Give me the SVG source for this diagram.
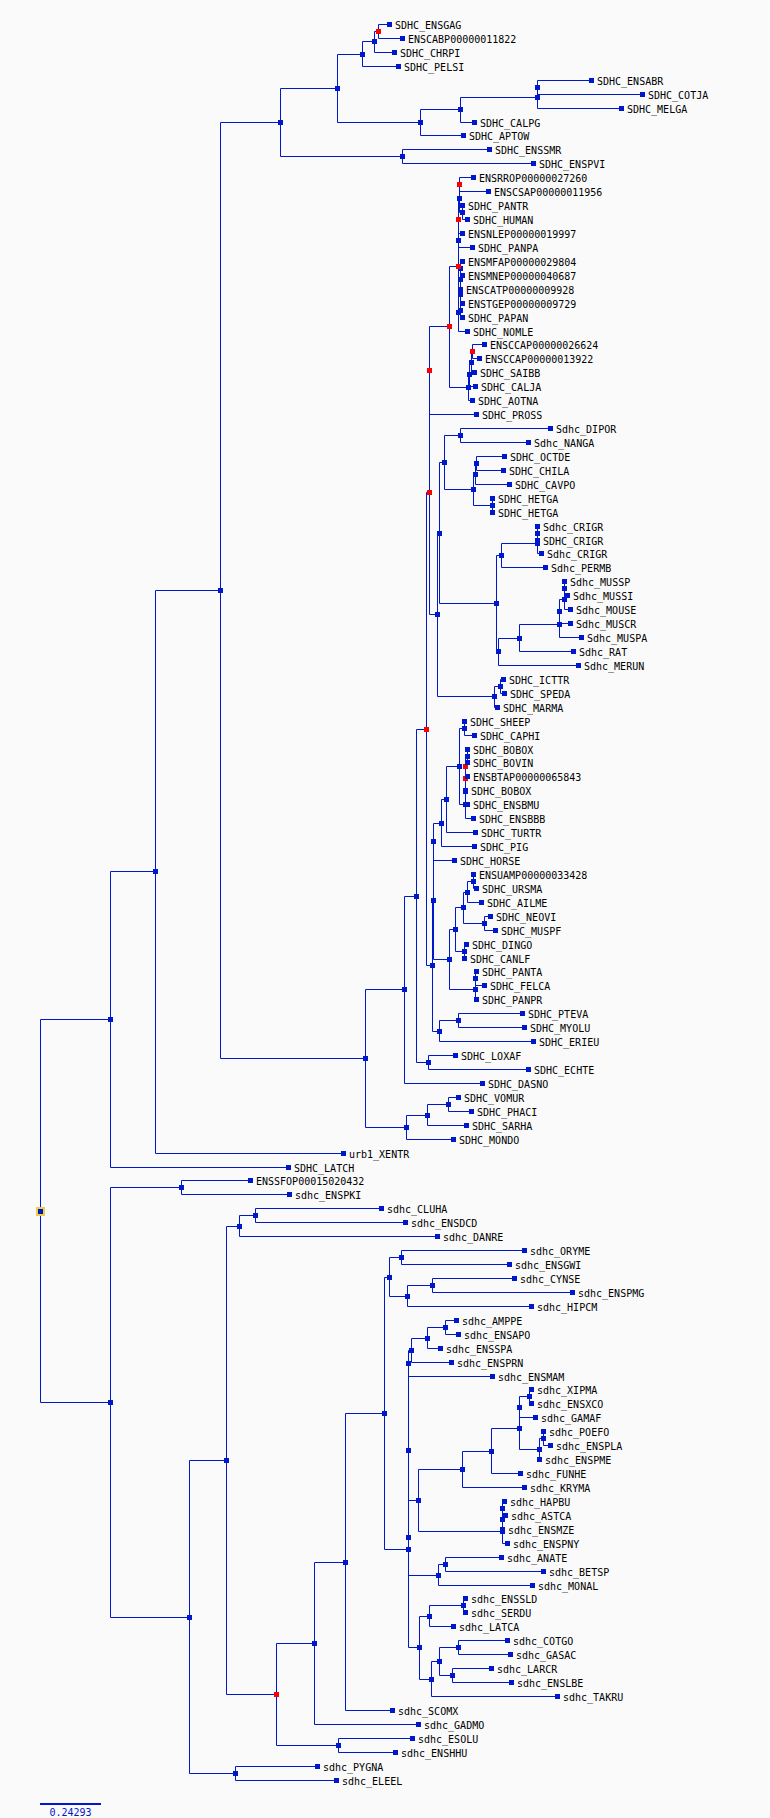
<svg xmlns="http://www.w3.org/2000/svg" xmlns:xlink="http://www.w3.org/1999/xlink" width="770" height="1818" viewBox="0 0 770 1818">
<style>
.c path{fill:none;stroke:#0018cc;stroke-width:1}
.b{fill:#0018cc}
.r{fill:#ff0000}
text{font-family:"DejaVu Sans Mono","Liberation Mono",monospace;font-size:10px;fill:#000}
.s{fill:#0018cc}
</style>
<defs><rect id="m" x="-2.5" y="-2.5" width="5" height="5"/></defs>
<rect width="770" height="1818" fill="#fafafa"/>
<g class="c" id="connectors">
<path d="M389.5 24.5H378.5V38.5H402.5"/>
<path d="M378.5 31.5H374.5V52.5H394.5"/>
<path d="M374.5 41.5H362.5V66.5H398.5"/>
<path d="M591.5 80.5H537.5V94.5H642.5"/>
<path d="M537.5 87.5V108.5H621.5"/>
<path d="M537.5 97.5H460.5V122.5H474.5"/>
<path d="M460.5 109.5H420.5V135.5H463.5"/>
<path d="M362.5 54.5H337.5V122.5H420.5"/>
<path d="M489.5 149.5H402.5V163.5H533.5"/>
<path d="M337.5 88.5H280.5V156.5H402.5"/>
<path d="M473.5 177.5H459.5V191.5H488.5"/>
<path d="M462.5 205.5V219.5H467.5"/>
<path d="M459.5 184.5V212.5H462.5"/>
<path d="M462.5 233.5H458.5V247.5H472.5"/>
<path d="M459.5 198.5H458.5V240.5"/>
<path d="M462.5 261.5H460.5V275.5H462.5"/>
<path d="M460.5 268.5V289.5"/>
<path d="M462.5 303.5H460.5V317.5H462.5"/>
<path d="M460.5 279.5V310.5"/>
<path d="M460.5 294.5H458.5V331.5H467.5"/>
<path d="M458.5 219.5V312.5"/>
<path d="M484.5 344.5H472.5V358.5H479.5"/>
<path d="M472.5 351.5H471.5V372.5H474.5"/>
<path d="M471.5 362.5H469.5V386.5H475.5"/>
<path d="M469.5 374.5H468.5V400.5H472.5"/>
<path d="M458.5 266.5H449.5V387.5H468.5"/>
<path d="M449.5 326.5H429.5V414.5H476.5"/>
<path d="M550.5 428.5H460.5V442.5H528.5"/>
<path d="M504.5 456.5H476.5V470.5H503.5"/>
<path d="M476.5 463.5H475.5V484.5H509.5"/>
<path d="M492.5 498.5V512.5"/>
<path d="M475.5 474.5H473.5V505.5H492.5"/>
<path d="M460.5 435.5H444.5V489.5H473.5"/>
<path d="M537.5 526.5V540.5"/>
<path d="M537.5 533.5V553.5H541.5"/>
<path d="M537.5 543.5H501.5V567.5H545.5"/>
<path d="M564.5 581.5V595.5H567.5"/>
<path d="M564.5 588.5V609.5H570.5"/>
<path d="M564.5 599.5H559.5V623.5H570.5"/>
<path d="M559.5 611.5V637.5H581.5"/>
<path d="M559.5 624.5H519.5V651.5H573.5"/>
<path d="M519.5 638.5H498.5V665.5H578.5"/>
<path d="M501.5 555.5H496.5V651.5H498.5"/>
<path d="M444.5 462.5H439.5V603.5H496.5"/>
<path d="M503.5 679.5H500.5V693.5H504.5"/>
<path d="M500.5 686.5H494.5V707.5H497.5"/>
<path d="M439.5 533.5H437.5V696.5H494.5"/>
<path d="M429.5 370.5V614.5H437.5"/>
<path d="M464.5 721.5V735.5H474.5"/>
<path d="M467.5 749.5V762.5"/>
<path d="M467.5 756.5H465.5V776.5H467.5"/>
<path d="M465.5 766.5V790.5"/>
<path d="M465.5 778.5V804.5H467.5"/>
<path d="M465.5 791.5V818.5H473.5"/>
<path d="M464.5 728.5H459.5V804.5H465.5"/>
<path d="M459.5 766.5H446.5V832.5H475.5"/>
<path d="M446.5 799.5H441.5V846.5H474.5"/>
<path d="M441.5 823.5H433.5V860.5H454.5"/>
<path d="M473.5 874.5V888.5H476.5"/>
<path d="M473.5 881.5H467.5V902.5H481.5"/>
<path d="M490.5 916.5H484.5V930.5H495.5"/>
<path d="M467.5 892.5H463.5V923.5H484.5"/>
<path d="M466.5 944.5H464.5V958.5"/>
<path d="M463.5 907.5H455.5V951.5H464.5"/>
<path d="M476.5 971.5H475.5V985.5H484.5"/>
<path d="M475.5 978.5V999.5H476.5"/>
<path d="M455.5 929.5H449.5V989.5H475.5"/>
<path d="M433.5 841.5V959.5H449.5"/>
<path d="M522.5 1013.5H458.5V1027.5H524.5"/>
<path d="M458.5 1020.5H439.5V1041.5H533.5"/>
<path d="M433.5 900.5H432.5V1031.5H439.5"/>
<path d="M429.5 492.5H426.5V965.5H432.5"/>
<path d="M455.5 1055.5H428.5V1069.5H528.5"/>
<path d="M426.5 729.5H416.5V1062.5H428.5"/>
<path d="M416.5 896.5H404.5V1083.5H482.5"/>
<path d="M458.5 1097.5H448.5V1111.5H471.5"/>
<path d="M448.5 1104.5H427.5V1125.5H466.5"/>
<path d="M427.5 1115.5H406.5V1139.5H453.5"/>
<path d="M404.5 989.5H365.5V1127.5H406.5"/>
<path d="M280.5 122.5H220.5V1058.5H365.5"/>
<path d="M220.5 590.5H155.5V1153.5H343.5"/>
<path d="M155.5 871.5H110.5V1167.5H288.5"/>
<path d="M250.5 1180.5H181.5V1194.5H289.5"/>
<path d="M381.5 1208.5H255.5V1222.5H405.5"/>
<path d="M255.5 1215.5H239.5V1236.5H437.5"/>
<path d="M524.5 1250.5H401.5V1264.5H509.5"/>
<path d="M514.5 1278.5H432.5V1292.5H572.5"/>
<path d="M432.5 1285.5H407.5V1306.5H531.5"/>
<path d="M401.5 1257.5H389.5V1296.5H407.5"/>
<path d="M456.5 1320.5H445.5V1334.5H458.5"/>
<path d="M445.5 1327.5H427.5V1348.5H440.5"/>
<path d="M427.5 1338.5H411.5V1362.5H451.5"/>
<path d="M411.5 1350.5H408.5V1376.5H492.5"/>
<path d="M531.5 1389.5H529.5V1403.5H531.5"/>
<path d="M529.5 1396.5H519.5V1417.5H535.5"/>
<path d="M543.5 1431.5V1445.5H550.5"/>
<path d="M543.5 1438.5H539.5V1459.5"/>
<path d="M519.5 1407.5V1449.5H539.5"/>
<path d="M519.5 1428.5H491.5V1473.5H520.5"/>
<path d="M491.5 1451.5H462.5V1487.5H524.5"/>
<path d="M504.5 1501.5H502.5V1515.5H505.5"/>
<path d="M502.5 1508.5V1529.5"/>
<path d="M502.5 1519.5V1543.5H507.5"/>
<path d="M462.5 1469.5H418.5V1531.5H502.5"/>
<path d="M501.5 1557.5H445.5V1571.5H543.5"/>
<path d="M445.5 1564.5H438.5V1585.5H532.5"/>
<path d="M418.5 1500.5H408.5V1575.5H438.5"/>
<path d="M408.5 1363.5V1537.5"/>
<path d="M465.5 1598.5H463.5V1612.5H465.5"/>
<path d="M463.5 1605.5H429.5V1626.5H453.5"/>
<path d="M507.5 1640.5H458.5V1654.5H510.5"/>
<path d="M491.5 1668.5H452.5V1682.5H511.5"/>
<path d="M458.5 1647.5H439.5V1675.5H452.5"/>
<path d="M439.5 1661.5H431.5V1696.5H557.5"/>
<path d="M429.5 1616.5H419.5V1679.5H431.5"/>
<path d="M408.5 1450.5V1647.5H419.5"/>
<path d="M389.5 1277.5H384.5V1549.5H408.5"/>
<path d="M384.5 1413.5H345.5V1710.5H392.5"/>
<path d="M345.5 1562.5H314.5V1724.5H418.5"/>
<path d="M412.5 1738.5H338.5V1752.5H395.5"/>
<path d="M314.5 1643.5H276.5V1745.5H338.5"/>
<path d="M239.5 1226.5H226.5V1694.5H276.5"/>
<path d="M317.5 1766.5H235.5V1780.5H336.5"/>
<path d="M226.5 1460.5H189.5V1773.5H235.5"/>
<path d="M181.5 1187.5H110.5V1617.5H189.5"/>
<path d="M110.5 1019.5H40.5V1402.5H110.5"/>
</g>
<g id="internal-nodes">
<g id="n1"><use href="#m" class="r" x="378.5" y="31.5"/></g>
<g id="n2"><use href="#m" class="b" x="374.5" y="41.5"/></g>
<g id="n3"><use href="#m" class="b" x="362.5" y="54.5"/></g>
<g id="n4"><use href="#m" class="b" x="537.5" y="87.5"/></g>
<g id="n5"><use href="#m" class="b" x="537.5" y="97.5"/></g>
<g id="n6"><use href="#m" class="b" x="460.5" y="109.5"/></g>
<g id="n7"><use href="#m" class="b" x="420.5" y="122.5"/></g>
<g id="n8"><use href="#m" class="b" x="337.5" y="88.5"/></g>
<g id="n9"><use href="#m" class="b" x="402.5" y="156.5"/></g>
<g id="n10"><use href="#m" class="b" x="280.5" y="122.5"/></g>
<g id="p1"><use href="#m" class="r" x="459.5" y="184.5"/></g>
<g id="p2"><use href="#m" class="b" x="462.5" y="212.5"/></g>
<g id="p3"><use href="#m" class="b" x="459.5" y="198.5"/></g>
<g id="p4"><use href="#m" class="b" x="458.5" y="240.5"/></g>
<g id="p5"><use href="#m" class="r" x="458.5" y="219.5"/></g>
<g id="p6"><use href="#m" class="b" x="460.5" y="268.5"/></g>
<g id="p7"><use href="#m" class="b" x="460.5" y="279.5"/></g>
<g id="p8"><use href="#m" class="b" x="460.5" y="310.5"/></g>
<g id="p9"><use href="#m" class="b" x="460.5" y="294.5"/></g>
<g id="p10"><use href="#m" class="b" x="458.5" y="312.5"/></g>
<g id="p11"><use href="#m" class="r" x="458.5" y="266.5"/></g>
<g id="q1"><use href="#m" class="r" x="472.5" y="351.5"/></g>
<g id="q2"><use href="#m" class="b" x="471.5" y="362.5"/></g>
<g id="q3"><use href="#m" class="b" x="469.5" y="374.5"/></g>
<g id="q4"><use href="#m" class="b" x="468.5" y="387.5"/></g>
<g id="a1"><use href="#m" class="r" x="449.5" y="326.5"/></g>
<g id="r1"><use href="#m" class="r" x="429.5" y="370.5"/></g>
<g id="g1"><use href="#m" class="b" x="460.5" y="435.5"/></g>
<g id="g2"><use href="#m" class="b" x="476.5" y="463.5"/></g>
<g id="g3"><use href="#m" class="b" x="475.5" y="474.5"/></g>
<g id="g4"><use href="#m" class="b" x="492.5" y="505.5"/></g>
<g id="g5"><use href="#m" class="b" x="473.5" y="489.5"/></g>
<g id="g6"><use href="#m" class="b" x="444.5" y="462.5"/></g>
<g id="g7"><use href="#m" class="b" x="537.5" y="533.5"/></g>
<g id="g8"><use href="#m" class="b" x="537.5" y="543.5"/></g>
<g id="g9"><use href="#m" class="b" x="501.5" y="555.5"/></g>
<g id="g10"><use href="#m" class="b" x="564.5" y="588.5"/></g>
<g id="g11"><use href="#m" class="b" x="564.5" y="599.5"/></g>
<g id="g12"><use href="#m" class="b" x="559.5" y="611.5"/></g>
<g id="g13"><use href="#m" class="b" x="559.5" y="624.5"/></g>
<g id="g14"><use href="#m" class="b" x="519.5" y="638.5"/></g>
<g id="g15"><use href="#m" class="b" x="498.5" y="651.5"/></g>
<g id="g16"><use href="#m" class="b" x="496.5" y="603.5"/></g>
<g id="g17"><use href="#m" class="b" x="439.5" y="533.5"/></g>
<g id="g18"><use href="#m" class="b" x="500.5" y="686.5"/></g>
<g id="g19"><use href="#m" class="b" x="494.5" y="696.5"/></g>
<g id="g20"><use href="#m" class="b" x="437.5" y="614.5"/></g>
<g id="r2"><use href="#m" class="r" x="429.5" y="492.5"/></g>
<g id="c1"><use href="#m" class="b" x="464.5" y="728.5"/></g>
<g id="c2"><use href="#m" class="b" x="467.5" y="756.5"/></g>
<g id="c3"><use href="#m" class="r" x="465.5" y="766.5"/></g>
<g id="c4"><use href="#m" class="r" x="465.5" y="778.5"/></g>
<g id="c5"><use href="#m" class="b" x="465.5" y="791.5"/></g>
<g id="c6"><use href="#m" class="b" x="465.5" y="804.5"/></g>
<g id="c7"><use href="#m" class="b" x="459.5" y="766.5"/></g>
<g id="c8"><use href="#m" class="b" x="446.5" y="799.5"/></g>
<g id="c9"><use href="#m" class="b" x="441.5" y="823.5"/></g>
<g id="c10"><use href="#m" class="b" x="433.5" y="841.5"/></g>
<g id="k1"><use href="#m" class="b" x="473.5" y="881.5"/></g>
<g id="k2"><use href="#m" class="b" x="467.5" y="892.5"/></g>
<g id="k3"><use href="#m" class="b" x="484.5" y="923.5"/></g>
<g id="k4"><use href="#m" class="b" x="463.5" y="907.5"/></g>
<g id="k5"><use href="#m" class="b" x="464.5" y="951.5"/></g>
<g id="k6"><use href="#m" class="b" x="455.5" y="929.5"/></g>
<g id="k7"><use href="#m" class="b" x="475.5" y="978.5"/></g>
<g id="k8"><use href="#m" class="b" x="475.5" y="989.5"/></g>
<g id="k9"><use href="#m" class="b" x="449.5" y="959.5"/></g>
<g id="c11"><use href="#m" class="b" x="433.5" y="900.5"/></g>
<g id="b1"><use href="#m" class="b" x="458.5" y="1020.5"/></g>
<g id="b2"><use href="#m" class="b" x="439.5" y="1031.5"/></g>
<g id="c12"><use href="#m" class="b" x="432.5" y="965.5"/></g>
<g id="r3"><use href="#m" class="r" x="426.5" y="729.5"/></g>
<g id="f1"><use href="#m" class="b" x="428.5" y="1062.5"/></g>
<g id="e1"><use href="#m" class="b" x="416.5" y="896.5"/></g>
<g id="e2"><use href="#m" class="b" x="404.5" y="989.5"/></g>
<g id="m1"><use href="#m" class="b" x="448.5" y="1104.5"/></g>
<g id="m2"><use href="#m" class="b" x="427.5" y="1115.5"/></g>
<g id="m3"><use href="#m" class="b" x="406.5" y="1127.5"/></g>
<g id="e3"><use href="#m" class="b" x="365.5" y="1058.5"/></g>
<g id="nA"><use href="#m" class="b" x="220.5" y="590.5"/></g>
<g id="nB"><use href="#m" class="b" x="155.5" y="871.5"/></g>
<g id="nC"><use href="#m" class="b" x="110.5" y="1019.5"/></g>
<g id="nE"><use href="#m" class="b" x="181.5" y="1187.5"/></g>
<g id="nJ"><use href="#m" class="b" x="255.5" y="1215.5"/></g>
<g id="nI"><use href="#m" class="b" x="239.5" y="1226.5"/></g>
<g id="nT"><use href="#m" class="b" x="401.5" y="1257.5"/></g>
<g id="nV"><use href="#m" class="b" x="432.5" y="1285.5"/></g>
<g id="nU"><use href="#m" class="b" x="407.5" y="1296.5"/></g>
<g id="nR"><use href="#m" class="b" x="389.5" y="1277.5"/></g>
<g id="fa"><use href="#m" class="b" x="445.5" y="1327.5"/></g>
<g id="fb"><use href="#m" class="b" x="427.5" y="1338.5"/></g>
<g id="fc"><use href="#m" class="b" x="411.5" y="1350.5"/></g>
<g id="nY"><use href="#m" class="b" x="408.5" y="1363.5"/></g>
<g id="x1"><use href="#m" class="b" x="529.5" y="1396.5"/></g>
<g id="x2"><use href="#m" class="b" x="519.5" y="1407.5"/></g>
<g id="x3"><use href="#m" class="b" x="543.5" y="1438.5"/></g>
<g id="x4"><use href="#m" class="b" x="539.5" y="1449.5"/></g>
<g id="x5"><use href="#m" class="b" x="519.5" y="1428.5"/></g>
<g id="x6"><use href="#m" class="b" x="491.5" y="1451.5"/></g>
<g id="nBB"><use href="#m" class="b" x="462.5" y="1469.5"/></g>
<g id="h1"><use href="#m" class="b" x="502.5" y="1508.5"/></g>
<g id="h2"><use href="#m" class="b" x="502.5" y="1519.5"/></g>
<g id="h3"><use href="#m" class="b" x="502.5" y="1531.5"/></g>
<g id="nAA"><use href="#m" class="b" x="418.5" y="1500.5"/></g>
<g id="nDD"><use href="#m" class="b" x="445.5" y="1564.5"/></g>
<g id="nCC"><use href="#m" class="b" x="438.5" y="1575.5"/></g>
<g id="nZ"><use href="#m" class="b" x="408.5" y="1537.5"/></g>
<g id="nW"><use href="#m" class="b" x="408.5" y="1450.5"/></g>
<g id="s1"><use href="#m" class="b" x="463.5" y="1605.5"/></g>
<g id="nEE"><use href="#m" class="b" x="429.5" y="1616.5"/></g>
<g id="nHH"><use href="#m" class="b" x="458.5" y="1647.5"/></g>
<g id="nII"><use href="#m" class="b" x="452.5" y="1675.5"/></g>
<g id="nGG"><use href="#m" class="b" x="439.5" y="1661.5"/></g>
<g id="nFF"><use href="#m" class="b" x="431.5" y="1679.5"/></g>
<g id="nX"><use href="#m" class="b" x="419.5" y="1647.5"/></g>
<g id="nS"><use href="#m" class="b" x="408.5" y="1549.5"/></g>
<g id="nQ"><use href="#m" class="b" x="384.5" y="1413.5"/></g>
<g id="nP"><use href="#m" class="b" x="345.5" y="1562.5"/></g>
<g id="nL"><use href="#m" class="b" x="314.5" y="1643.5"/></g>
<g id="nM"><use href="#m" class="b" x="338.5" y="1745.5"/></g>
<g id="nK"><use href="#m" class="r" x="276.5" y="1694.5"/></g>
<g id="nH"><use href="#m" class="b" x="226.5" y="1460.5"/></g>
<g id="nN"><use href="#m" class="b" x="235.5" y="1773.5"/></g>
<g id="nG"><use href="#m" class="b" x="189.5" y="1617.5"/></g>
<g id="nD"><use href="#m" class="b" x="110.5" y="1402.5"/></g>
<g id="root"><rect x="36" y="1207" width="9" height="9" fill="#f0cc48"/><use href="#m" class="b" x="40.5" y="1211.5"/></g>
</g>
<g id="leaves">
<g id="L1"><use href="#m" class="b" x="389.5" y="24.5"/><text x="395" y="28.5">SDHC_ENSGAG</text></g>
<g id="L2"><use href="#m" class="b" x="402.5" y="38.5"/><text x="408" y="42.5">ENSCABP00000011822</text></g>
<g id="L3"><use href="#m" class="b" x="394.5" y="52.5"/><text x="400" y="56.5">SDHC_CHRPI</text></g>
<g id="L4"><use href="#m" class="b" x="398.5" y="66.5"/><text x="404" y="70.5">SDHC_PELSI</text></g>
<g id="L5"><use href="#m" class="b" x="591.5" y="80.5"/><text x="597" y="84.5">SDHC_ENSABR</text></g>
<g id="L6"><use href="#m" class="b" x="642.5" y="94.5"/><text x="648" y="98.5">SDHC_COTJA</text></g>
<g id="L7"><use href="#m" class="b" x="621.5" y="108.5"/><text x="627" y="112.5">SDHC_MELGA</text></g>
<g id="L8"><use href="#m" class="b" x="474.5" y="122.5"/><text x="480" y="126.5">SDHC_CALPG</text></g>
<g id="L9"><use href="#m" class="b" x="463.5" y="135.5"/><text x="469" y="139.5">SDHC_APTOW</text></g>
<g id="L10"><use href="#m" class="b" x="489.5" y="149.5"/><text x="495" y="153.5">SDHC_ENSSMR</text></g>
<g id="L11"><use href="#m" class="b" x="533.5" y="163.5"/><text x="539" y="167.5">SDHC_ENSPVI</text></g>
<g id="L12"><use href="#m" class="b" x="473.5" y="177.5"/><text x="479" y="181.5">ENSRROP00000027260</text></g>
<g id="L13"><use href="#m" class="b" x="488.5" y="191.5"/><text x="494" y="195.5">ENSCSAP00000011956</text></g>
<g id="L14"><use href="#m" class="b" x="462.5" y="205.5"/><text x="468" y="209.5">SDHC_PANTR</text></g>
<g id="L15"><use href="#m" class="b" x="467.5" y="219.5"/><text x="473" y="223.5">SDHC_HUMAN</text></g>
<g id="L16"><use href="#m" class="b" x="462.5" y="233.5"/><text x="468" y="237.5">ENSNLEP00000019997</text></g>
<g id="L17"><use href="#m" class="b" x="472.5" y="247.5"/><text x="478" y="251.5">SDHC_PANPA</text></g>
<g id="L18"><use href="#m" class="b" x="462.5" y="261.5"/><text x="468" y="265.5">ENSMFAP00000029804</text></g>
<g id="L19"><use href="#m" class="b" x="462.5" y="275.5"/><text x="468" y="279.5">ENSMNEP00000040687</text></g>
<g id="L20"><use href="#m" class="b" x="460.5" y="289.5"/><text x="466" y="293.5">ENSCATP00000009928</text></g>
<g id="L21"><use href="#m" class="b" x="462.5" y="303.5"/><text x="468" y="307.5">ENSTGEP00000009729</text></g>
<g id="L22"><use href="#m" class="b" x="462.5" y="317.5"/><text x="468" y="321.5">SDHC_PAPAN</text></g>
<g id="L23"><use href="#m" class="b" x="467.5" y="331.5"/><text x="473" y="335.5">SDHC_NOMLE</text></g>
<g id="L24"><use href="#m" class="b" x="484.5" y="344.5"/><text x="490" y="348.5">ENSCCAP00000026624</text></g>
<g id="L25"><use href="#m" class="b" x="479.5" y="358.5"/><text x="485" y="362.5">ENSCCAP00000013922</text></g>
<g id="L26"><use href="#m" class="b" x="474.5" y="372.5"/><text x="480" y="376.5">SDHC_SAIBB</text></g>
<g id="L27"><use href="#m" class="b" x="475.5" y="386.5"/><text x="481" y="390.5">SDHC_CALJA</text></g>
<g id="L28"><use href="#m" class="b" x="472.5" y="400.5"/><text x="478" y="404.5">SDHC_AOTNA</text></g>
<g id="L29"><use href="#m" class="b" x="476.5" y="414.5"/><text x="482" y="418.5">SDHC_PROSS</text></g>
<g id="L30"><use href="#m" class="b" x="550.5" y="428.5"/><text x="556" y="432.5">Sdhc_DIPOR</text></g>
<g id="L31"><use href="#m" class="b" x="528.5" y="442.5"/><text x="534" y="446.5">Sdhc_NANGA</text></g>
<g id="L32"><use href="#m" class="b" x="504.5" y="456.5"/><text x="510" y="460.5">SDHC_OCTDE</text></g>
<g id="L33"><use href="#m" class="b" x="503.5" y="470.5"/><text x="509" y="474.5">SDHC_CHILA</text></g>
<g id="L34"><use href="#m" class="b" x="509.5" y="484.5"/><text x="515" y="488.5">SDHC_CAVPO</text></g>
<g id="L35"><use href="#m" class="b" x="492.5" y="498.5"/><text x="498" y="502.5">SDHC_HETGA</text></g>
<g id="L36"><use href="#m" class="b" x="492.5" y="512.5"/><text x="498" y="516.5">SDHC_HETGA</text></g>
<g id="L37"><use href="#m" class="b" x="537.5" y="526.5"/><text x="543" y="530.5">Sdhc_CRIGR</text></g>
<g id="L38"><use href="#m" class="b" x="537.5" y="540.5"/><text x="543" y="544.5">SDHC_CRIGR</text></g>
<g id="L39"><use href="#m" class="b" x="541.5" y="553.5"/><text x="547" y="557.5">Sdhc_CRIGR</text></g>
<g id="L40"><use href="#m" class="b" x="545.5" y="567.5"/><text x="551" y="571.5">Sdhc_PERMB</text></g>
<g id="L41"><use href="#m" class="b" x="564.5" y="581.5"/><text x="570" y="585.5">Sdhc_MUSSP</text></g>
<g id="L42"><use href="#m" class="b" x="567.5" y="595.5"/><text x="573" y="599.5">Sdhc_MUSSI</text></g>
<g id="L43"><use href="#m" class="b" x="570.5" y="609.5"/><text x="576" y="613.5">Sdhc_MOUSE</text></g>
<g id="L44"><use href="#m" class="b" x="570.5" y="623.5"/><text x="576" y="627.5">Sdhc_MUSCR</text></g>
<g id="L45"><use href="#m" class="b" x="581.5" y="637.5"/><text x="587" y="641.5">Sdhc_MUSPA</text></g>
<g id="L46"><use href="#m" class="b" x="573.5" y="651.5"/><text x="579" y="655.5">Sdhc_RAT</text></g>
<g id="L47"><use href="#m" class="b" x="578.5" y="665.5"/><text x="584" y="669.5">Sdhc_MERUN</text></g>
<g id="L48"><use href="#m" class="b" x="503.5" y="679.5"/><text x="509" y="683.5">SDHC_ICTTR</text></g>
<g id="L49"><use href="#m" class="b" x="504.5" y="693.5"/><text x="510" y="697.5">SDHC_SPEDA</text></g>
<g id="L50"><use href="#m" class="b" x="497.5" y="707.5"/><text x="503" y="711.5">SDHC_MARMA</text></g>
<g id="L51"><use href="#m" class="b" x="464.5" y="721.5"/><text x="470" y="725.5">SDHC_SHEEP</text></g>
<g id="L52"><use href="#m" class="b" x="474.5" y="735.5"/><text x="480" y="739.5">SDHC_CAPHI</text></g>
<g id="L53"><use href="#m" class="b" x="467.5" y="749.5"/><text x="473" y="753.5">SDHC_BOBOX</text></g>
<g id="L54"><use href="#m" class="b" x="467.5" y="762.5"/><text x="473" y="766.5">SDHC_BOVIN</text></g>
<g id="L55"><use href="#m" class="b" x="467.5" y="776.5"/><text x="473" y="780.5">ENSBTAP00000065843</text></g>
<g id="L56"><use href="#m" class="b" x="465.5" y="790.5"/><text x="471" y="794.5">SDHC_BOBOX</text></g>
<g id="L57"><use href="#m" class="b" x="467.5" y="804.5"/><text x="473" y="808.5">SDHC_ENSBMU</text></g>
<g id="L58"><use href="#m" class="b" x="473.5" y="818.5"/><text x="479" y="822.5">SDHC_ENSBBB</text></g>
<g id="L59"><use href="#m" class="b" x="475.5" y="832.5"/><text x="481" y="836.5">SDHC_TURTR</text></g>
<g id="L60"><use href="#m" class="b" x="474.5" y="846.5"/><text x="480" y="850.5">SDHC_PIG</text></g>
<g id="L61"><use href="#m" class="b" x="454.5" y="860.5"/><text x="460" y="864.5">SDHC_HORSE</text></g>
<g id="L62"><use href="#m" class="b" x="473.5" y="874.5"/><text x="479" y="878.5">ENSUAMP00000033428</text></g>
<g id="L63"><use href="#m" class="b" x="476.5" y="888.5"/><text x="482" y="892.5">SDHC_URSMA</text></g>
<g id="L64"><use href="#m" class="b" x="481.5" y="902.5"/><text x="487" y="906.5">SDHC_AILME</text></g>
<g id="L65"><use href="#m" class="b" x="490.5" y="916.5"/><text x="496" y="920.5">SDHC_NEOVI</text></g>
<g id="L66"><use href="#m" class="b" x="495.5" y="930.5"/><text x="501" y="934.5">SDHC_MUSPF</text></g>
<g id="L67"><use href="#m" class="b" x="466.5" y="944.5"/><text x="472" y="948.5">SDHC_DINGO</text></g>
<g id="L68"><use href="#m" class="b" x="464.5" y="958.5"/><text x="470" y="962.5">SDHC_CANLF</text></g>
<g id="L69"><use href="#m" class="b" x="476.5" y="971.5"/><text x="482" y="975.5">SDHC_PANTA</text></g>
<g id="L70"><use href="#m" class="b" x="484.5" y="985.5"/><text x="490" y="989.5">SDHC_FELCA</text></g>
<g id="L71"><use href="#m" class="b" x="476.5" y="999.5"/><text x="482" y="1003.5">SDHC_PANPR</text></g>
<g id="L72"><use href="#m" class="b" x="522.5" y="1013.5"/><text x="528" y="1017.5">SDHC_PTEVA</text></g>
<g id="L73"><use href="#m" class="b" x="524.5" y="1027.5"/><text x="530" y="1031.5">SDHC_MYOLU</text></g>
<g id="L74"><use href="#m" class="b" x="533.5" y="1041.5"/><text x="539" y="1045.5">SDHC_ERIEU</text></g>
<g id="L75"><use href="#m" class="b" x="455.5" y="1055.5"/><text x="461" y="1059.5">SDHC_LOXAF</text></g>
<g id="L76"><use href="#m" class="b" x="528.5" y="1069.5"/><text x="534" y="1073.5">SDHC_ECHTE</text></g>
<g id="L77"><use href="#m" class="b" x="482.5" y="1083.5"/><text x="488" y="1087.5">SDHC_DASNO</text></g>
<g id="L78"><use href="#m" class="b" x="458.5" y="1097.5"/><text x="464" y="1101.5">SDHC_VOMUR</text></g>
<g id="L79"><use href="#m" class="b" x="471.5" y="1111.5"/><text x="477" y="1115.5">SDHC_PHACI</text></g>
<g id="L80"><use href="#m" class="b" x="466.5" y="1125.5"/><text x="472" y="1129.5">SDHC_SARHA</text></g>
<g id="L81"><use href="#m" class="b" x="453.5" y="1139.5"/><text x="459" y="1143.5">SDHC_MONDO</text></g>
<g id="L82"><use href="#m" class="b" x="343.5" y="1153.5"/><text x="349" y="1157.5">urb1_XENTR</text></g>
<g id="L83"><use href="#m" class="b" x="288.5" y="1167.5"/><text x="294" y="1171.5">SDHC_LATCH</text></g>
<g id="L84"><use href="#m" class="b" x="250.5" y="1180.5"/><text x="256" y="1184.5">ENSSFOP00015020432</text></g>
<g id="L85"><use href="#m" class="b" x="289.5" y="1194.5"/><text x="295" y="1198.5">sdhc_ENSPKI</text></g>
<g id="L86"><use href="#m" class="b" x="381.5" y="1208.5"/><text x="387" y="1212.5">sdhc_CLUHA</text></g>
<g id="L87"><use href="#m" class="b" x="405.5" y="1222.5"/><text x="411" y="1226.5">sdhc_ENSDCD</text></g>
<g id="L88"><use href="#m" class="b" x="437.5" y="1236.5"/><text x="443" y="1240.5">sdhc_DANRE</text></g>
<g id="L89"><use href="#m" class="b" x="524.5" y="1250.5"/><text x="530" y="1254.5">sdhc_ORYME</text></g>
<g id="L90"><use href="#m" class="b" x="509.5" y="1264.5"/><text x="515" y="1268.5">sdhc_ENSGWI</text></g>
<g id="L91"><use href="#m" class="b" x="514.5" y="1278.5"/><text x="520" y="1282.5">sdhc_CYNSE</text></g>
<g id="L92"><use href="#m" class="b" x="572.5" y="1292.5"/><text x="578" y="1296.5">sdhc_ENSPMG</text></g>
<g id="L93"><use href="#m" class="b" x="531.5" y="1306.5"/><text x="537" y="1310.5">sdhc_HIPCM</text></g>
<g id="L94"><use href="#m" class="b" x="456.5" y="1320.5"/><text x="462" y="1324.5">sdhc_AMPPE</text></g>
<g id="L95"><use href="#m" class="b" x="458.5" y="1334.5"/><text x="464" y="1338.5">sdhc_ENSAPO</text></g>
<g id="L96"><use href="#m" class="b" x="440.5" y="1348.5"/><text x="446" y="1352.5">sdhc_ENSSPA</text></g>
<g id="L97"><use href="#m" class="b" x="451.5" y="1362.5"/><text x="457" y="1366.5">sdhc_ENSPRN</text></g>
<g id="L98"><use href="#m" class="b" x="492.5" y="1376.5"/><text x="498" y="1380.5">sdhc_ENSMAM</text></g>
<g id="L99"><use href="#m" class="b" x="531.5" y="1389.5"/><text x="537" y="1393.5">sdhc_XIPMA</text></g>
<g id="L100"><use href="#m" class="b" x="531.5" y="1403.5"/><text x="537" y="1407.5">sdhc_ENSXCO</text></g>
<g id="L101"><use href="#m" class="b" x="535.5" y="1417.5"/><text x="541" y="1421.5">sdhc_GAMAF</text></g>
<g id="L102"><use href="#m" class="b" x="543.5" y="1431.5"/><text x="549" y="1435.5">sdhc_POEFO</text></g>
<g id="L103"><use href="#m" class="b" x="550.5" y="1445.5"/><text x="556" y="1449.5">sdhc_ENSPLA</text></g>
<g id="L104"><use href="#m" class="b" x="539.5" y="1459.5"/><text x="545" y="1463.5">sdhc_ENSPME</text></g>
<g id="L105"><use href="#m" class="b" x="520.5" y="1473.5"/><text x="526" y="1477.5">sdhc_FUNHE</text></g>
<g id="L106"><use href="#m" class="b" x="524.5" y="1487.5"/><text x="530" y="1491.5">sdhc_KRYMA</text></g>
<g id="L107"><use href="#m" class="b" x="504.5" y="1501.5"/><text x="510" y="1505.5">sdhc_HAPBU</text></g>
<g id="L108"><use href="#m" class="b" x="505.5" y="1515.5"/><text x="511" y="1519.5">sdhc_ASTCA</text></g>
<g id="L109"><use href="#m" class="b" x="502.5" y="1529.5"/><text x="508" y="1533.5">sdhc_ENSMZE</text></g>
<g id="L110"><use href="#m" class="b" x="507.5" y="1543.5"/><text x="513" y="1547.5">sdhc_ENSPNY</text></g>
<g id="L111"><use href="#m" class="b" x="501.5" y="1557.5"/><text x="507" y="1561.5">sdhc_ANATE</text></g>
<g id="L112"><use href="#m" class="b" x="543.5" y="1571.5"/><text x="549" y="1575.5">sdhc_BETSP</text></g>
<g id="L113"><use href="#m" class="b" x="532.5" y="1585.5"/><text x="538" y="1589.5">sdhc_MONAL</text></g>
<g id="L114"><use href="#m" class="b" x="465.5" y="1598.5"/><text x="471" y="1602.5">sdhc_ENSSLD</text></g>
<g id="L115"><use href="#m" class="b" x="465.5" y="1612.5"/><text x="471" y="1616.5">sdhc_SERDU</text></g>
<g id="L116"><use href="#m" class="b" x="453.5" y="1626.5"/><text x="459" y="1630.5">sdhc_LATCA</text></g>
<g id="L117"><use href="#m" class="b" x="507.5" y="1640.5"/><text x="513" y="1644.5">sdhc_COTGO</text></g>
<g id="L118"><use href="#m" class="b" x="510.5" y="1654.5"/><text x="516" y="1658.5">sdhc_GASAC</text></g>
<g id="L119"><use href="#m" class="b" x="491.5" y="1668.5"/><text x="497" y="1672.5">sdhc_LARCR</text></g>
<g id="L120"><use href="#m" class="b" x="511.5" y="1682.5"/><text x="517" y="1686.5">sdhc_ENSLBE</text></g>
<g id="L121"><use href="#m" class="b" x="557.5" y="1696.5"/><text x="563" y="1700.5">sdhc_TAKRU</text></g>
<g id="L122"><use href="#m" class="b" x="392.5" y="1710.5"/><text x="398" y="1714.5">sdhc_SCOMX</text></g>
<g id="L123"><use href="#m" class="b" x="418.5" y="1724.5"/><text x="424" y="1728.5">sdhc_GADMO</text></g>
<g id="L124"><use href="#m" class="b" x="412.5" y="1738.5"/><text x="418" y="1742.5">sdhc_ESOLU</text></g>
<g id="L125"><use href="#m" class="b" x="395.5" y="1752.5"/><text x="401" y="1756.5">sdhc_ENSHHU</text></g>
<g id="L126"><use href="#m" class="b" x="317.5" y="1766.5"/><text x="323" y="1770.5">sdhc_PYGNA</text></g>
<g id="L127"><use href="#m" class="b" x="336.5" y="1780.5"/><text x="342" y="1784.5">sdhc_ELEEL</text></g>
</g>
<g id="scale">
<rect x="40" y="1803" width="61" height="2" fill="#0018cc"/>
<text class="s" x="70.5" y="1816" text-anchor="middle">0.24293</text>
</g>
</svg>
